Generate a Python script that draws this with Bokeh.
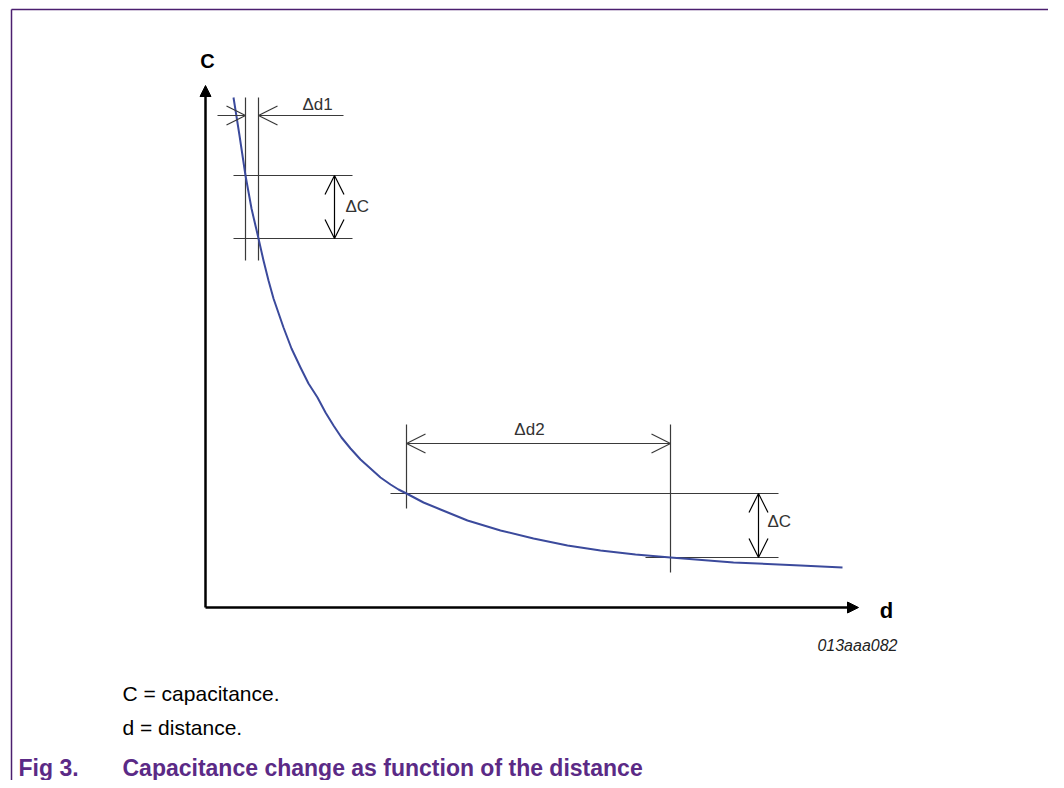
from bokeh.plotting import figure
from bokeh.models import Range1d, Arrow, OpenHead, NormalHead, Label, ColumnDataSource
from bokeh.embed import file_html
from bokeh.resources import INLINE

# ---- data (arbitrary units: d = distance, C = capacitance) ----
curve_d = [2.8, 3.4, 4.0, 4.6, 5.3, 5.8, 6.3, 6.8, 7.8, 8.6, 9.5, 10.3, 11.2, 12.0,
           12.8, 13.6, 14.5, 15.5, 16.5, 17.5, 18.5, 19.3, 20.1, 21.8, 23.5, 26.2,
           29.5, 32.8, 36.2, 39.5, 43.0, 46.5, 52.8, 59.5, 63.7]
curve_C = [51.0, 47.2, 43.2, 39.9, 36.9, 34.7, 32.7, 30.9, 28.0, 25.9, 24.0, 22.4,
           21.0, 19.5, 18.2, 17.0, 15.9, 14.8, 13.9, 13.0, 12.3, 11.8, 11.4, 10.5,
           9.8, 8.7, 7.7, 6.9, 6.2, 5.7, 5.3, 5.0, 4.5, 4.2, 4.0]

d1_pair = [4.0, 5.3]          # distances of the first (steep) interval
C1_pair = [43.2, 36.9]        # capacitances at those distances
d2_pair = [20.1, 46.5]        # distances of the second (flat) interval
C2_pair = [11.4, 5.0]

d_axis_len = 65.3
C_axis_len = 52.2

texts_annot = ["\u0394d1", "\u0394C", "\u0394d2", "\u0394C"]
axis_labels = ["C", "d"]
code_label = "013aaa082"
notes = ["C = capacitance.", "d = distance."]
fig_num = "Fig 3."
fig_title = "Capacitance change as function of the distance"

LINE = "#3a3a3a"
CURVE = "#3b4a9c"
PURPLE = "#5b2a86"
BORDER = "#4b1f6f"
FONT = "Liberation Sans"

X0, X1 = -20.5, 84.3
Y0, Y1 = -17.3, 60.7
p = figure(width=1048, height=780,
           x_range=Range1d(X0, X1), y_range=Range1d(Y0, Y1),
           x_axis_type=None, y_axis_type=None,
           output_backend="svg", toolbar_location=None, min_border=0)
p.grid.visible = False
p.outline_line_color = None
p.background_fill_color = "white"
p.border_fill_color = "white"

# page frame (top and left rule)
p.segment(x0=-19.4, y0=59.8, x1=X1, y1=59.8, line_color=BORDER, line_width=1.5)
p.segment(x0=-19.4, y0=59.8, x1=-19.4, y1=Y0, line_color=BORDER, line_width=1.5)

# axes with filled arrowheads
p.add_layout(Arrow(end=NormalHead(size=11, fill_color="black", line_color="black"),
                   x_start=0, y_start=0, x_end=d_axis_len, y_end=0,
                   line_width=2.5, line_color="black"))
p.add_layout(Arrow(end=NormalHead(size=11, fill_color="black", line_color="black"),
                   x_start=0, y_start=0, x_end=0, y_end=C_axis_len,
                   line_width=2.5, line_color="black"))

# ---- first interval (small distance) ----
for dv in d1_pair:
    p.segment(x0=dv, y0=51.0, x1=dv, y1=34.7, line_color=LINE, line_width=1.2)
for cv in C1_pair:
    p.segment(x0=2.8, y0=cv, x1=14.7, y1=cv, line_color=LINE, line_width=1.2)
y_arr1 = 49.2
p.add_layout(Arrow(end=OpenHead(size=19, line_color=LINE, line_width=1.2),
                   x_start=1.2, y_start=y_arr1, x_end=d1_pair[0], y_end=y_arr1,
                   line_color=LINE, line_width=1.2))
p.add_layout(Arrow(end=OpenHead(size=19, line_color=LINE, line_width=1.2),
                   x_start=13.8, y_start=y_arr1, x_end=d1_pair[1], y_end=y_arr1,
                   line_color=LINE, line_width=1.2))
p.add_layout(Arrow(start=OpenHead(size=19, line_color="black", line_width=1.2),
                   end=OpenHead(size=19, line_color="black", line_width=1.2),
                   x_start=12.9, y_start=C1_pair[0], x_end=12.9, y_end=C1_pair[1],
                   line_color="black", line_width=1.2))

# ---- second interval (large distance) ----
p.segment(x0=d2_pair[0], y0=18.3, x1=d2_pair[0], y1=9.9, line_color=LINE, line_width=1.2)
p.segment(x0=d2_pair[1], y0=18.3, x1=d2_pair[1], y1=3.5, line_color=LINE, line_width=1.2)
p.segment(x0=18.5, y0=C2_pair[0], x1=57.3, y1=C2_pair[0], line_color=LINE, line_width=1.2)
p.segment(x0=44.0, y0=C2_pair[1], x1=57.3, y1=C2_pair[1], line_color=LINE, line_width=1.2)
y_arr2 = 16.4
p.add_layout(Arrow(start=OpenHead(size=19, line_color=LINE, line_width=1.2),
                   end=OpenHead(size=19, line_color=LINE, line_width=1.2),
                   x_start=d2_pair[0], y_start=y_arr2, x_end=d2_pair[1], y_end=y_arr2,
                   line_color=LINE, line_width=1.2))
p.add_layout(Arrow(start=OpenHead(size=19, line_color="black", line_width=1.2),
                   end=OpenHead(size=19, line_color="black", line_width=1.2),
                   x_start=55.3, y_start=C2_pair[0], x_end=55.3, y_end=C2_pair[1],
                   line_color="black", line_width=1.2))

# curve
src = ColumnDataSource(dict(d=curve_d, C=curve_C))
p.line("d", "C", source=src, line_color=CURVE, line_width=2, line_join="round")

def lab(x, y, t, size, **kw):
    p.add_layout(Label(x=x, y=y, text=t, text_font=FONT, text_font_size=f"{size}px",
                       **kw))

lab(9.7, 50.3, texts_annot[0], 17, text_baseline="middle", text_color="#333333")
lab(14.0, 40.1, texts_annot[1], 17, text_baseline="middle", text_color="#333333")
lab(32.4, 17.8, texts_annot[2], 17, text_baseline="middle", text_align="center", text_color="#333333")
lab(56.2, 8.6, texts_annot[3], 17, text_baseline="middle", text_color="#333333")

lab(0.2, 54.7, axis_labels[0], 20, text_baseline="middle", text_align="center",
    text_font_style="bold", text_color="black")
lab(68.1, -0.3, axis_labels[1], 22, text_baseline="middle", text_align="center",
    text_font_style="bold", text_color="black")
lab(69.2, -3.8, code_label, 16, text_baseline="middle", text_align="right",
    text_font_style="italic", text_color="#222222")

lab(-8.3, -8.6, notes[0], 21, text_baseline="middle", text_color="black")
lab(-8.3, -12.0, notes[1], 21, text_baseline="middle", text_color="black")
lab(-18.7, -16.0, fig_num, 23, text_baseline="middle", text_font_style="bold", text_color=PURPLE)
lab(-8.3, -16.0, fig_title, 23, text_baseline="middle", text_font_style="bold", text_color=PURPLE)

open("out.html", "w").write(file_html(p, INLINE))
